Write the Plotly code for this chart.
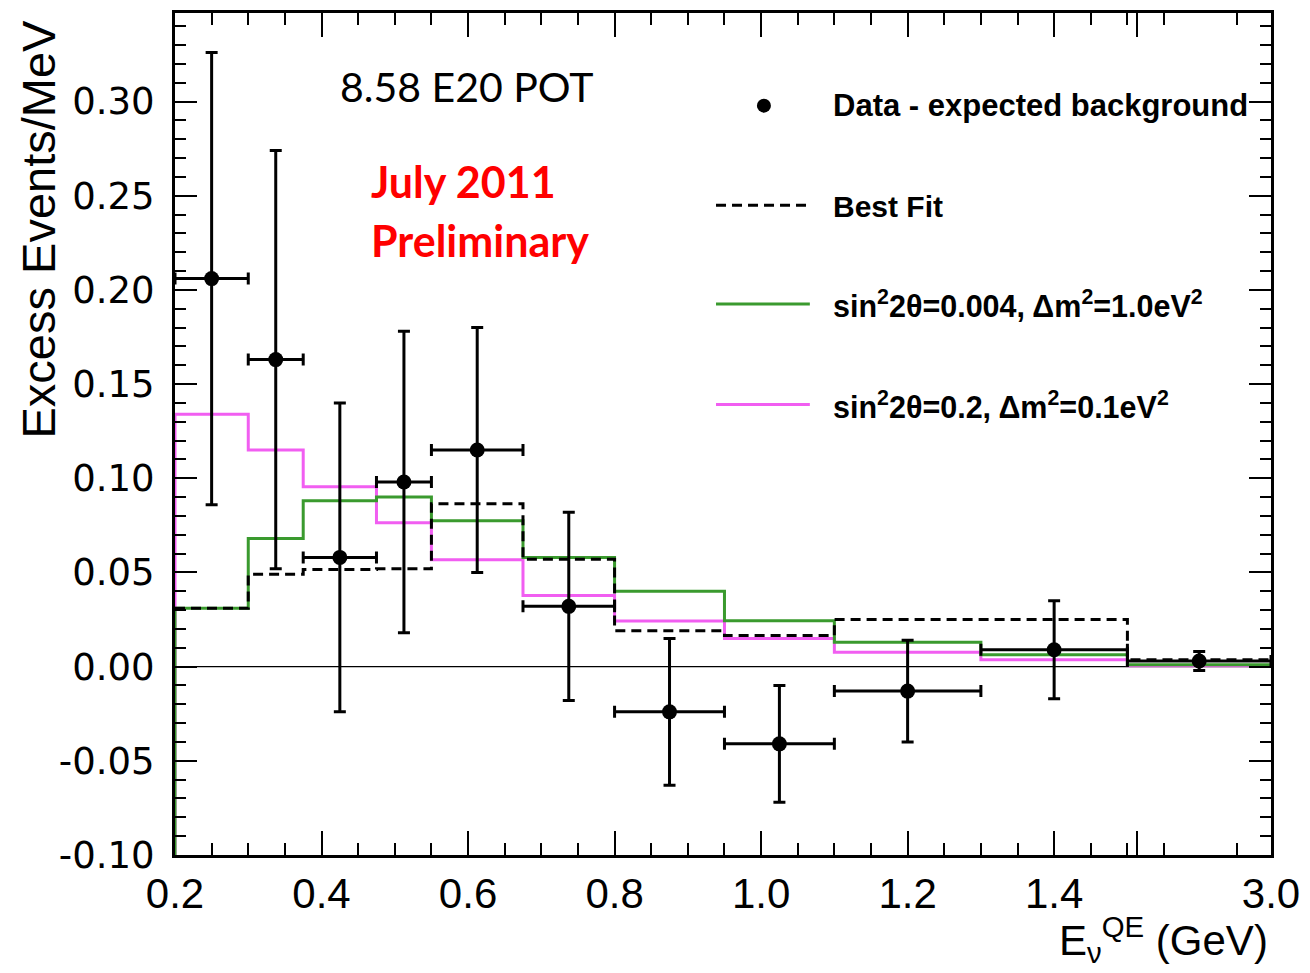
import plotly.graph_objects as go

# ---- data ----
bin_edges = [0.2, 0.3, 0.375, 0.475, 0.55, 0.675, 0.8, 0.95, 1.1, 1.3, 1.5, 3.0]
data_excess = [0.206, 0.163, 0.058, 0.098, 0.115, 0.032, -0.024, -0.041, -0.013, 0.009, 0.003]
data_err = [0.120, 0.111, 0.082, 0.080, 0.065, 0.050, 0.039, 0.031, 0.027, 0.026, 0.005]
best_fit = [0.031, 0.049, 0.0515, 0.052, 0.0865, 0.057, 0.019, 0.0165, 0.025, 0.025, 0.0037]
green_model = [0.031, 0.068, 0.088, 0.090, 0.0775, 0.058, 0.0400, 0.0244, 0.0129, 0.0063, 0.0010]
magenta_model = [0.134, 0.115, 0.0955, 0.0764, 0.0568, 0.0377, 0.0242, 0.0150, 0.0076, 0.0037, 0.0005]
x_tick_values = [0.2, 0.4, 0.6, 0.8, 1.0, 1.2, 1.4, 1.6, 3.0]
x_tick_labels = ["0.2", "0.4", "0.6", "0.8", "1.0", "1.2", "1.4", "", "3.0"]
y_tick_values = [-0.10, -0.05, 0.0, 0.05, 0.10, 0.15, 0.20, 0.25, 0.30]

# ---- axis transform: linear up to 1.5 GeV, last bin (1.5-3.0) compressed ----
BREAK = 1.5
LAST_W = 0.196


def tx(e):
    if e <= BREAK:
        return e
    return BREAK + (e - BREAK) * LAST_W / (3.0 - BREAK)


W, H = 1310, 973
ML, MR, MT, MB = 175, 37, 10, 118
PW, PH = W - ML - MR, H - MT - MB


def px(x):
    return (x - ML) / PW


def py(y):
    return (H - MB - y) / PH


YMIN, YMAX = -0.10, 0.347
XMIN, XMAX = 0.2, tx(3.0)

GREEN = "#3a9a2e"
MAGENTA = "#f15ef1"

fig = go.Figure()


def step_trace(vals, color, dash=None, from_floor=True):
    xs = [tx(e) for e in bin_edges]
    ys = list(vals) + [vals[-1]]
    if from_floor:
        xs = [tx(bin_edges[0])] + xs
        ys = [YMIN] + ys
    return go.Scatter(x=xs, y=ys, mode="lines", line_shape="hv",
                      line=dict(color=color, width=3, dash=dash),
                      showlegend=False, hoverinfo="skip")


# zero line
fig.add_trace(go.Scatter(x=[XMIN, XMAX], y=[0, 0], mode="lines",
                         line=dict(color="black", width=1.3),
                         showlegend=False, hoverinfo="skip"))
fig.add_trace(step_trace(magenta_model, MAGENTA))
fig.add_trace(step_trace(green_model, GREEN))
fig.add_trace(step_trace(best_fit, "black", dash="10px,6px", from_floor=False))

centers = [(tx(a) + tx(b)) / 2 for a, b in zip(bin_edges[:-1], bin_edges[1:])]
half_w = [(tx(b) - tx(a)) / 2 for a, b in zip(bin_edges[:-1], bin_edges[1:])]
fig.add_trace(go.Scatter(
    x=centers, y=data_excess, mode="markers",
    marker=dict(color="black", size=15),
    error_y=dict(type="data", array=data_err, color="black", thickness=3, width=6),
    error_x=dict(type="data", array=half_w, color="black", thickness=3, width=6),
    showlegend=False))

x_tick_pos = [tx(v) for v in x_tick_values]
x_minor = [round(0.05 * i, 3) for i in range(5, 34) if i % 4 != 0]
x_minor = [v for v in x_minor if v < XMAX]
y_minor = [round(-0.09 + 0.01 * i, 3) for i in range(44)]

fig.update_xaxes(
    range=[XMIN, XMAX], tickmode="array", tickvals=x_tick_pos, ticktext=x_tick_labels,
    ticks="inside", ticklen=24, tickwidth=1.5, tickcolor="black",
    showline=True, linewidth=3, linecolor="black", mirror="allticks",
    showgrid=False, zeroline=False,
    tickfont=dict(family="Liberation Sans", size=42, color="black"),
    ticklabelstandoff=0,
    minor=dict(tickvals=x_minor, ticks="inside", ticklen=12, tickwidth=1.5,
               tickcolor="black", showgrid=False),
)
fig.update_yaxes(
    range=[YMIN, YMAX], tickmode="array", tickvals=y_tick_values,
    ticktext=[f"{v:.2f}" for v in y_tick_values],
    ticks="inside", ticklen=22, tickwidth=1.5, tickcolor="black",
    showline=True, linewidth=3, linecolor="black", mirror="allticks",
    showgrid=False, zeroline=False,
    tickfont=dict(family="DejaVu Sans", size=37, color="black"),
    ticklabelstandoff=10,
    minor=dict(tickvals=y_minor, ticks="inside", ticklen=11, tickwidth=1.5,
               tickcolor="black", showgrid=False),
)

annotations = [
    dict(text="Excess Events/MeV", x=px(38), y=py(227), textangle=-90,
         font=dict(family="Liberation Sans", size=47, color="black")),
    dict(text="E<sub>ν</sub><sup>QE</sup> (GeV)", x=px(1272), y=py(940), xanchor="right",
         font=dict(family="Liberation Sans", size=42, color="black")),
    dict(text="8.58 E20 POT", x=px(338), y=py(84), xanchor="left",
         font=dict(family="Lato", size=41, color="black")),
    dict(text="<b>July 2011</b>", x=px(369), y=py(179), xanchor="left",
         font=dict(family="Lato", size=43, color="#ff0000")),
    dict(text="<b>Preliminary</b>", x=px(369), y=py(238), xanchor="left",
         font=dict(family="Lato", size=43, color="#ff0000")),
    dict(text="<b>Data - expected background</b>", x=px(832), y=py(103), xanchor="left",
         font=dict(family="Liberation Sans", size=31, color="black")),
    dict(text="<b>Best Fit</b>", x=px(832), y=py(204), xanchor="left",
         font=dict(family="Liberation Sans", size=30, color="black")),
    dict(text="<b>sin<sup>2</sup>2θ=0.004, Δm<sup>2</sup>=1.0eV<sup>2</sup></b>", x=px(832), y=py(302),
         xanchor="left", font=dict(family="Liberation Sans", size=30.5, color="black")),
    dict(text="<b>sin<sup>2</sup>2θ=0.2, Δm<sup>2</sup>=0.1eV<sup>2</sup></b>", x=px(832), y=py(403),
         xanchor="left", font=dict(family="Liberation Sans", size=30.5, color="black")),
]
for a in annotations:
    a.update(xref="paper", yref="paper", showarrow=False)
    a.setdefault("xanchor", "center")
    a.setdefault("yanchor", "middle")

shapes = [
    dict(type="circle", xref="paper", yref="paper", xsizemode="pixel", ysizemode="pixel",
         xanchor=px(765), yanchor=py(103), x0=-7, x1=7, y0=-7, y1=7,
         fillcolor="black", line=dict(color="black", width=0)),
    dict(type="line", xref="paper", yref="paper", x0=px(717), x1=px(811), y0=py(203), y1=py(203),
         line=dict(color="black", width=3, dash="10px,6px")),
    dict(type="line", xref="paper", yref="paper", x0=px(717), x1=px(811), y0=py(302), y1=py(302),
         line=dict(color=GREEN, width=3)),
    dict(type="line", xref="paper", yref="paper", x0=px(717), x1=px(811), y0=py(403), y1=py(403),
         line=dict(color=MAGENTA, width=3)),
]

fig.update_layout(
    width=W, height=H,
    margin=dict(l=ML, r=MR, t=MT, b=MB, pad=0),
    paper_bgcolor="white", plot_bgcolor="white",
    annotations=annotations, shapes=shapes, showlegend=False,
)

fig.write_html("out.html")
